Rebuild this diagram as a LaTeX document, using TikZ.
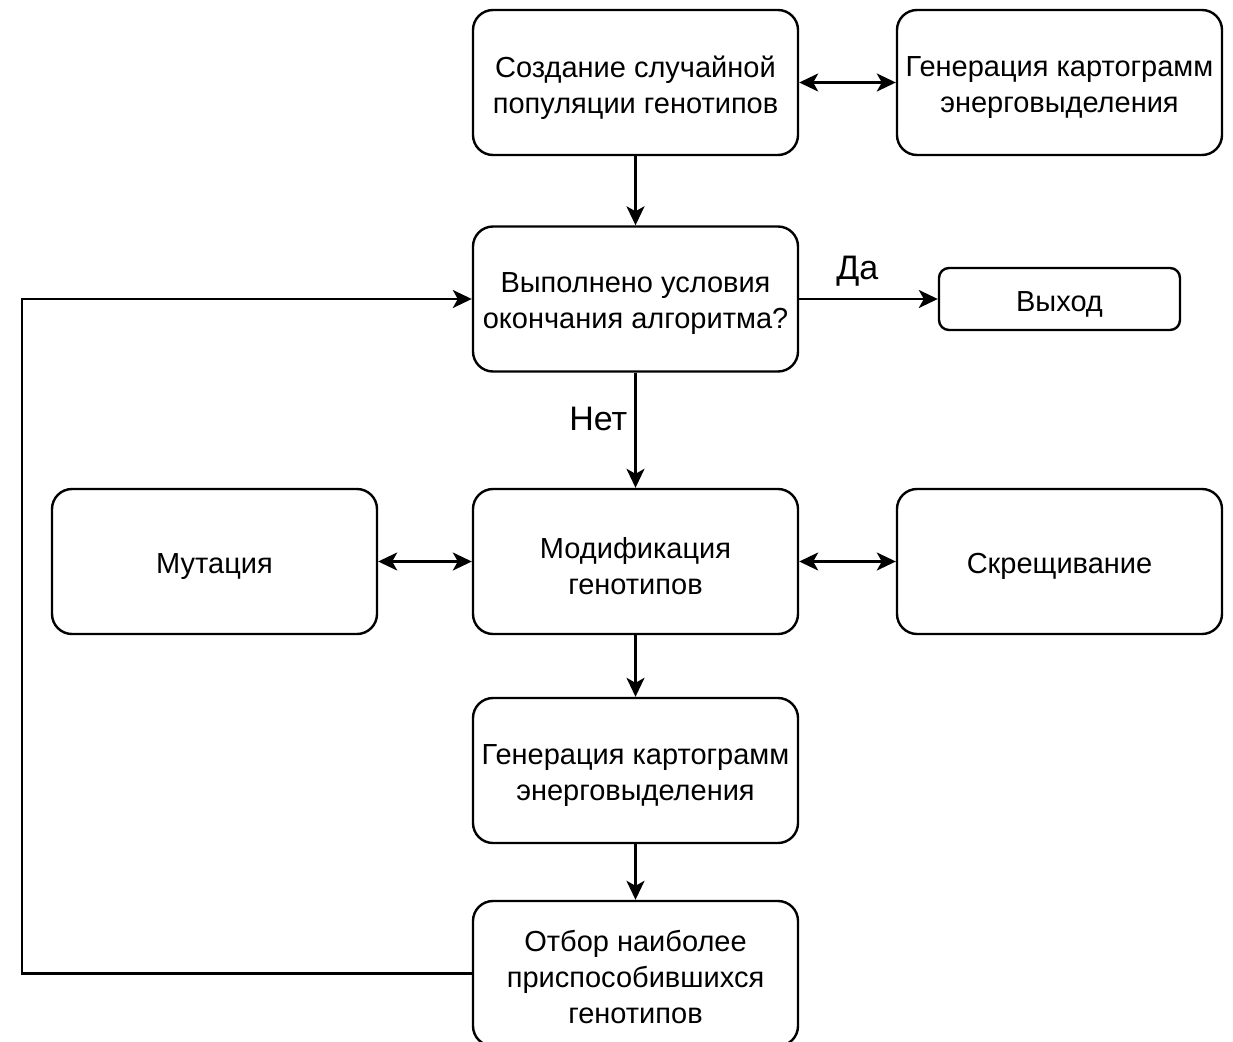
\documentclass[tikz,border=0pt]{standalone}
\usepackage{fontspec}
\setmainfont{Liberation Sans}
\usetikzlibrary{arrows.meta}
\begin{document}
\begin{tikzpicture}[x=1pt,y=-1pt,
  blk/.style={draw=black,line width=2.4pt,rounded corners=20pt,fill=white,
    minimum width=325pt,minimum height=145pt,inner sep=2pt},
  exitbox/.style={blk,minimum width=241pt,minimum height=62pt,rounded corners=10pt},
  txt/.style={inner sep=0pt,align=center,font=\fontsize{29}{36}\selectfont},
  lbl/.style={font=\fontsize{34}{38}\selectfont,inner sep=0pt},
  conn/.style={line width=2.4pt,-{Stealth[length=19pt,width=18pt,inset=5pt]}},
  dconn/.style={line width=2.4pt,{Stealth[length=19pt,width=18pt,inset=5pt]}-{Stealth[length=19pt,width=18pt,inset=5pt]}}
]
\useasboundingbox (0,0) rectangle (1233,1041);
\clip (0,0) rectangle (1233,1041);
\node[blk] (create) at (635.5,82.5) {};
\node[blk] (gen1) at (1059.5,82.5) {};
\node[blk] (cond) at (635.5,299) {};
\node[exitbox] (exit) at (1059.5,299) {};
\node[blk] (mut) at (214.5,561.5) {};
\node[blk] (mod) at (635.5,561.5) {};
\node[blk] (cross) at (1059.5,561.5) {};
\node[blk] (gen2) at (635.5,770.5) {};
\node[blk] (sel) at (635.5,973.5) {};
\node[txt] (createT) at ([yshift=-5pt]create.center) {Создание случайной\\популяции генотипов};
\node[txt] (gen1T) at ([yshift=-5pt]gen1.center) {Генерация картограмм\\энерговыделения};
\node[txt] (condT) at ([yshift=-5pt]cond.center) {Выполнено условия\\окончания алгоритма?};
\node[txt] (exitT) at ([yshift=-5pt]exit.center) {Выход};
\node[txt] (mutT) at ([yshift=-5pt]mut.center) {Мутация};
\node[txt] (modT) at ([yshift=-5pt]mod.center) {Модификация\\генотипов};
\node[txt] (crossT) at ([yshift=-5pt]cross.center) {Скрещивание};
\node[txt] (gen2T) at ([yshift=-5pt]gen2.center) {Генерация картограмм\\энерговыделения};
\node[txt] (selT) at ([yshift=-3pt]sel.center) {Отбор наиболее\\приспособившихся\\генотипов};
\coordinate (lb) at (22,973.5);
\coordinate (lt) at (22,299);
\draw[dconn] (create) -- (gen1);
\draw[conn] (create) -- (cond);
\draw[conn] (cond) -- node[lbl,pos=0.42,above=12pt] (yes) {Да} (exit);
\draw[conn] (cond) -- node[lbl,pos=0.4,left=7pt] (no) {Нет} (mod);
\draw[dconn] (mut) -- (mod);
\draw[dconn] (mod) -- (cross);
\draw[conn] (mod) -- (gen2);
\draw[conn] (gen2) -- (sel);
\draw[conn] (sel.west) -- (lb) -- (lt) -- (cond.west);
\end{tikzpicture}
\end{document}
